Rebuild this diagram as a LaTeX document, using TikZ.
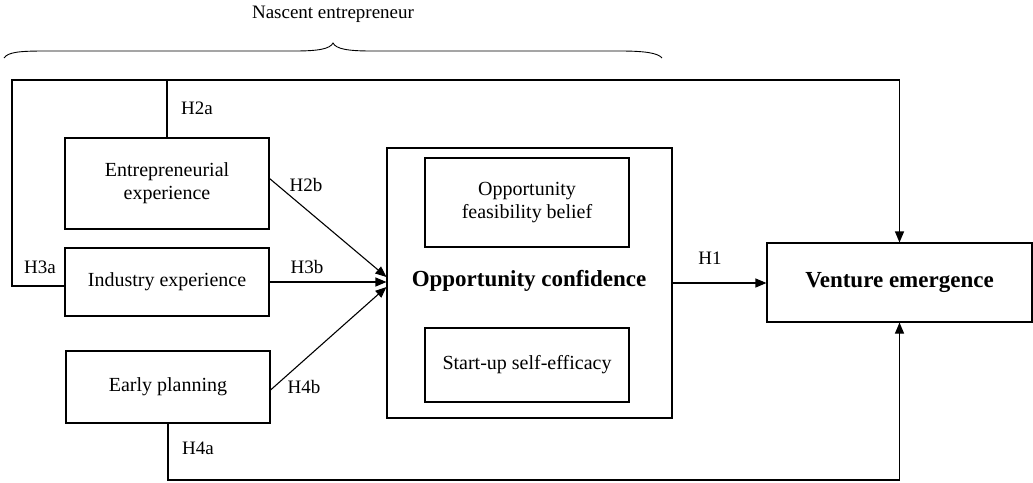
\documentclass[tikz,border=0pt]{standalone}
\usepackage{fontspec}
\setmainfont{Liberation Serif}
\usetikzlibrary{arrows.meta}
\begin{document}
\begin{tikzpicture}[x=1pt,y=-1pt,
  box/.style={draw, line width=1.1pt, inner sep=0pt, align=center,
    font=\fontsize{20}{23}\selectfont},
  lab/.style={inner sep=0pt, font=\fontsize{19}{22}\selectfont},
  conn/.style={line width=1.1pt},
  arr/.style={conn, -{Triangle[length=11pt,width=9pt]}}]
\useasboundingbox (0,0) rectangle (1033,482);
% brace
\draw[line width=0.9pt] (4,58) .. controls (8,52) and (20,51) .. (45,51) -- (295,51)
  .. controls (318,51) and (330,49) .. (333,43)
  .. controls (336,49) and (348,51) .. (371,51) -- (620,51)
  .. controls (645,51) and (658,53) .. (662,58);
\node[lab] (nascent) at (333,14) {Nascent entrepreneur};
% boxes
\node[box, minimum width=204pt, minimum height=91pt] (ent) at (167,183.5) {Entrepreneurial\\experience};
\node[box, minimum width=204pt, minimum height=68pt] (ind) at (167,282) {Industry experience};
\node[box, minimum width=204pt, minimum height=72pt] (early) at (168,387) {Early planning};
\node[box, minimum width=285pt, minimum height=270pt] (opp) at (529.5,283) {};
\node[box, minimum width=204pt, minimum height=89pt] (feas) at (527,202.5) {Opportunity\\feasibility belief};
\node[box, minimum width=204pt, minimum height=74pt] (self) at (527,365) {Start-up self-efficacy};
\node[inner sep=0pt, font=\fontsize{23}{26}\selectfont\bfseries] (oc) at (529,281) {Opportunity confidence};
\node[box, minimum width=265pt, minimum height=79pt, font=\fontsize{23}{26}\selectfont\bfseries] (vent) at (899.5,282.5) {Venture emergence};
% corner coordinates
\coordinate (tl) at (12,80);
\coordinate (bot) at (899.5,480);
% connectors
\draw[conn] (ent.north) -- (ent.north |- tl);
\draw[arr] ([yshift=-4pt]ind.west) -| (tl) -| (vent.north);
\draw[arr] (early.south) |- (bot) -- (vent.south);
\draw[arr] ([yshift=5pt]ent.east) -- ([yshift=6pt]opp.west);
\draw[arr] (ind.east) -- (opp.west |- ind.east);
\draw[arr] ([yshift=-3pt]early.east) -- ([yshift=-4pt]opp.west);
\draw[arr] (opp.east) -- (opp.east -| vent.west);
% labels
\node[lab] (h2a) at (197,108) {H2a};
\node[lab] (h2b) at (306,185) {H2b};
\node[lab] (h3a) at (40,267) {H3a};
\node[lab] (h3b) at (307,267) {H3b};
\node[lab] (h4b) at (304,387) {H4b};
\node[lab] (h4a) at (198,448) {H4a};
\node[lab] (h1) at (710,258) {H1};
\end{tikzpicture}
\end{document}
